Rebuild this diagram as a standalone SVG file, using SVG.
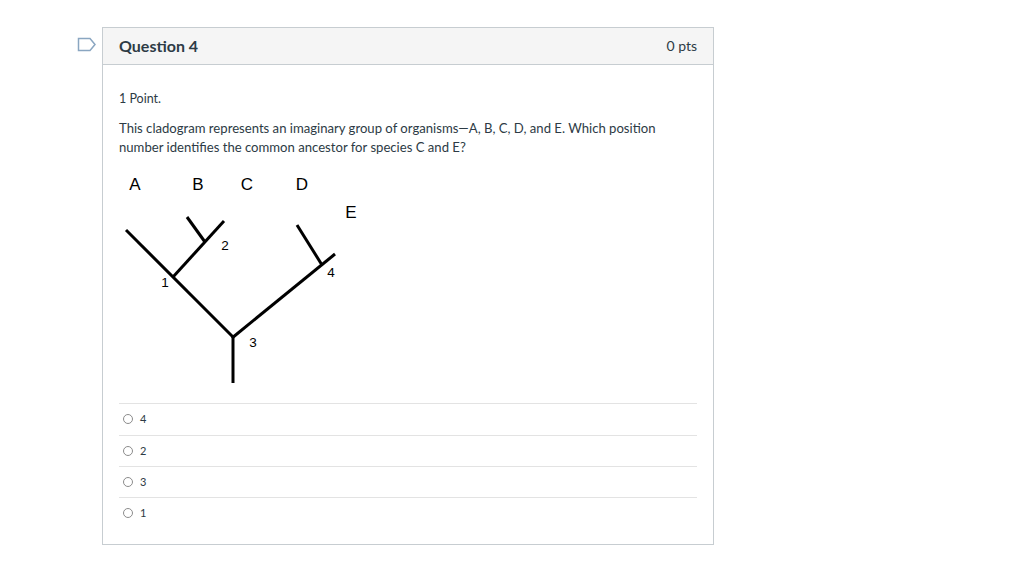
<svg xmlns="http://www.w3.org/2000/svg" width="1024" height="565" viewBox="0 0 1024 565">
<style>
.ui{font-family:Lato,"Liberation Sans",sans-serif;fill:#2d3b45}
.lab{font-family:"Liberation Sans",Arial,sans-serif;fill:#000}
.br{stroke:#000;stroke-width:3;stroke-linecap:butt;fill:none}
.sep{stroke:#e3e3e3;stroke-width:1}
.radio{fill:#fff;stroke:#8c8c8c;stroke-width:1}
</style>
<rect width="1024" height="565" fill="#fff"/>
<g id="icon">
<path d="M78.5 38.5 H90 L95 44.5 L90 50.5 H78.5 Z" fill="none" stroke="#8aa6c1" stroke-width="1.5"/>
</g>
<g id="card">
<rect x="102.5" y="27.5" width="611" height="517" fill="#fff" stroke="#c7cdd1"/>
<rect x="103" y="28" width="610" height="36" fill="#f5f5f5"/>
<line x1="102.5" y1="64.5" x2="713.5" y2="64.5" stroke="#c7cdd1"/>
<text class="ui" x="119" y="52" font-size="16" font-weight="bold">Question 4</text>
<text class="ui" x="697" y="51" font-size="14" text-anchor="end">0 pts</text>
</g>
<g id="question">
<text class="ui" x="119" y="103" font-size="12.5">1 Point.</text>
<text class="ui" x="119" y="133" font-size="13.12">This cladogram represents an imaginary group of organisms—A, B, C, D, and E. Which position</text>
<text class="ui" x="119" y="152" font-size="13.12">number identifies the common ancestor for species C and E?</text>
</g>
<g id="cladogram">
<g id="connectors">
<line class="br" x1="126" y1="230" x2="233" y2="337"/>
<line class="br" x1="233" y1="336" x2="233" y2="383"/>
<line class="br" x1="232" y1="338" x2="335" y2="254"/>
<line class="br" x1="297" y1="225" x2="322" y2="265"/>
<line class="br" x1="173" y1="277" x2="224" y2="221"/>
<line class="br" x1="187" y1="217" x2="205" y2="242"/>
</g>
<g id="taxa">
<text class="lab" x="135" y="190" font-size="17" text-anchor="middle">A</text>
<text class="lab" x="198" y="190" font-size="17" text-anchor="middle">B</text>
<text class="lab" x="247" y="190" font-size="17" text-anchor="middle">C</text>
<text class="lab" x="302" y="190" font-size="17" text-anchor="middle">D</text>
<text class="lab" x="351" y="218" font-size="17" text-anchor="middle">E</text>
</g>
<g id="nodes">
<text class="lab" x="165" y="287" font-size="13.5" text-anchor="middle">1</text>
<text class="lab" x="225" y="250" font-size="13.5" text-anchor="middle">2</text>
<text class="lab" x="253" y="347" font-size="13.5" text-anchor="middle">3</text>
<text class="lab" x="331" y="277" font-size="13.5" text-anchor="middle">4</text>
</g>
</g>
<g id="answers">
<line class="sep" x1="119" y1="403.5" x2="697" y2="403.5"/>
<line class="sep" x1="119" y1="435.5" x2="697" y2="435.5"/>
<line class="sep" x1="119" y1="466.5" x2="697" y2="466.5"/>
<line class="sep" x1="119" y1="497.5" x2="697" y2="497.5"/>
<g id="opt1"><circle class="radio" cx="128" cy="419" r="4.5"/><text class="ui" x="140" y="423" font-size="11">4</text></g>
<g id="opt2"><circle class="radio" cx="128" cy="451" r="4.5"/><text class="ui" x="140" y="455" font-size="11">2</text></g>
<g id="opt3"><circle class="radio" cx="128" cy="482" r="4.5"/><text class="ui" x="140" y="486" font-size="11">3</text></g>
<g id="opt4"><circle class="radio" cx="128" cy="513" r="4.5"/><text class="ui" x="140" y="517" font-size="11">1</text></g>
</g>
</svg>
